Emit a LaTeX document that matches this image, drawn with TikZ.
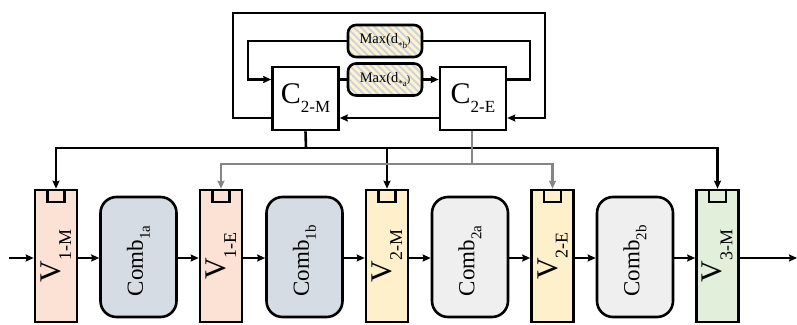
\documentclass[tikz,border=0pt]{standalone}
\usepackage{fontspec}
\setmainfont{Liberation Serif}
\usetikzlibrary{arrows.meta,patterns.meta,positioning}
\definecolor{peach}{HTML}{FBE2D5}
\definecolor{lyellow}{HTML}{FFF0CC}
\definecolor{lgreen}{HTML}{E2EFDA}
\definecolor{bluegray}{HTML}{D6DCE4}
\definecolor{lgray}{HTML}{EFEFEF}
\definecolor{stripe}{HTML}{C5D3E2}
\definecolor{myellow}{HTML}{FFF2CC}
\definecolor{midgray}{HTML}{858585}
\newcommand{\lab}[5]{{\fontsize{#1}{#1}\selectfont #3\raisebox{-#5}{\fontsize{#2}{#2}\selectfont #4}}}
\tikzset{
  ln/.style={line width=2.6pt},
  arr/.style={ln,-{Stealth[length=8pt,width=7pt,inset=1pt]}},
  garr/.style={arr,draw=midgray},
  vbox/.style={draw,ln,minimum width=42pt,minimum height=132pt,inner sep=0pt},
  sq/.style={draw,line width=2.2pt,minimum width=17pt,minimum height=12pt,inner sep=0pt},
  comb/.style={draw,ln,rounded corners=16pt,minimum width=76pt,minimum height=120pt,inner sep=0pt},
  cbox/.style={draw,ln,fill=white,minimum width=66pt,minimum height=63pt,inner sep=0pt},
  maxbox/.style={draw,ln,rounded corners=8pt,minimum width=74pt,minimum height=32pt,inner sep=0pt,
     preaction={fill=myellow},
     pattern={Lines[angle=-45,distance=5pt,line width=1.8pt]},pattern color=stripe},
}
\begin{document}
\begin{tikzpicture}[x=1pt,y=-1pt]
\useasboundingbox (0,0) rectangle (797,324);
% bottom row
\node[vbox,fill=peach] (v1m) at (56,256) {};
\node[vbox,fill=peach] (v1e) at (221,256) {};
\node[vbox,fill=lyellow] (v2m) at (387,256) {};
\node[vbox,fill=lyellow] (v2e) at (552.5,256) {};
\node[vbox,fill=lgreen] (v3m) at (717.5,256) {};
\foreach \n in {v1m,v1e,v2m,v2e,v3m}{
  \node[sq,anchor=north] (\n sq) at ([yshift=-0.5pt]\n.north) {};
}
\node[rotate=90] (v1mt) at (56,256) {\lab{30pt}{18pt}{V}{1-M}{0.35em}};
\node[rotate=90] (v1et) at (221,256) {\lab{30pt}{18pt}{V}{1-E}{0.35em}};
\node[rotate=90] (v2mt) at (387,256) {\lab{30pt}{18pt}{V}{2-M}{0.35em}};
\node[rotate=90] (v2et) at (552.5,256) {\lab{30pt}{18pt}{V}{2-E}{0.35em}};
\node[rotate=90] (v3mt) at (717.5,256) {\lab{30pt}{18pt}{V}{3-M}{0.35em}};
\node[comb,fill=bluegray] (c1a) at (138.5,257) {};
\node[comb,fill=bluegray] (c1b) at (304.5,257) {};
\node[comb,fill=lgray] (c2a) at (470,257) {};
\node[comb,fill=lgray] (c2b) at (635,257) {};
\node[rotate=90] at (138.5,261) {\lab{23pt}{15pt}{Comb}{1a}{0.3em}};
\node[rotate=90] at (304.5,261) {\lab{23pt}{15pt}{Comb}{1b}{0.3em}};
\node[rotate=90] at (470,261) {\lab{23pt}{15pt}{Comb}{2a}{0.3em}};
\node[rotate=90] at (635,261) {\lab{23pt}{15pt}{Comb}{2b}{0.3em}};
\coordinate (in) at (9,258);
\coordinate (out) at (797,258);
\draw[arr] (in) -- (in -| v1m.west);
\draw[arr] (v1m.east |- in) -- (c1a.west |- in);
\draw[arr] (c1a.east |- in) -- (v1e.west |- in);
\draw[arr] (v1e.east |- in) -- (c1b.west |- in);
\draw[arr] (c1b.east |- in) -- (v2m.west |- in);
\draw[arr] (v2m.east |- in) -- (c2a.west |- in);
\draw[arr] (c2a.east |- in) -- (v2e.west |- in);
\draw[arr] (v2e.east |- in) -- (c2b.west |- in);
\draw[arr] (c2b.east |- in) -- (v3m.west |- in);
\draw[arr] (v3m.east |- in) -- (out);
% top
\node[cbox] (c2m) at (305.5,98.5) {\lab{30pt}{17pt}{C}{2-M}{0.3em}};
\node[cbox] (c2e) at (473,98.5) {\lab{30pt}{17pt}{C}{2-E}{0.3em}};
\node[maxbox] (maxa) at (385,79.5) {\lab{14.5pt}{9pt}{Max(d}{*a}{0.3em})};
\node[maxbox] (maxb) at (385,41) {\lab{14.5pt}{9pt}{Max(d}{*b}{0.3em})};
\coordinate (lowy) at (0,118);
\coordinate (rl) at (530,79.5);
\coordinate (ll) at (248,41);
\coordinate (o1) at (233,118);
\coordinate (o2) at (233,13);
\coordinate (o3) at (545,13);
\coordinate (o4) at (545,118);
\coordinate (bj) at (306,148);
\coordinate (gj) at (472,164);
\draw[ln] (c2m.east |- maxa) -- (maxa.west);
\draw[arr] (maxa.east) -- (c2e.west |- maxa);
\draw[ln] (c2e.east |- maxa) -- (rl) |- (maxb.east);
\draw[arr] (maxb.west) -- (ll) |- (c2m.west |- maxa);
\draw[arr] (c2m.west |- lowy) -- (o1) -- (o2) -- (o3) -- (o4) -- (c2e.east |- lowy);
\draw[arr] (c2e.west |- lowy) -- (c2m.east |- lowy);
% distribution
\draw[ln] (c2m.south) -- (bj);
\draw[arr] (bj) -| (v1m.north);
\draw[arr] (bj) -| (v3m.north);
\draw[arr] (bj) -| (v2m.north);
\draw[ln,draw=midgray] (c2e.south -| gj) -- (gj);
\draw[garr] (gj) -| (v1e.north);
\draw[garr] (gj) -| (v2e.north);
\end{tikzpicture}
\end{document}
